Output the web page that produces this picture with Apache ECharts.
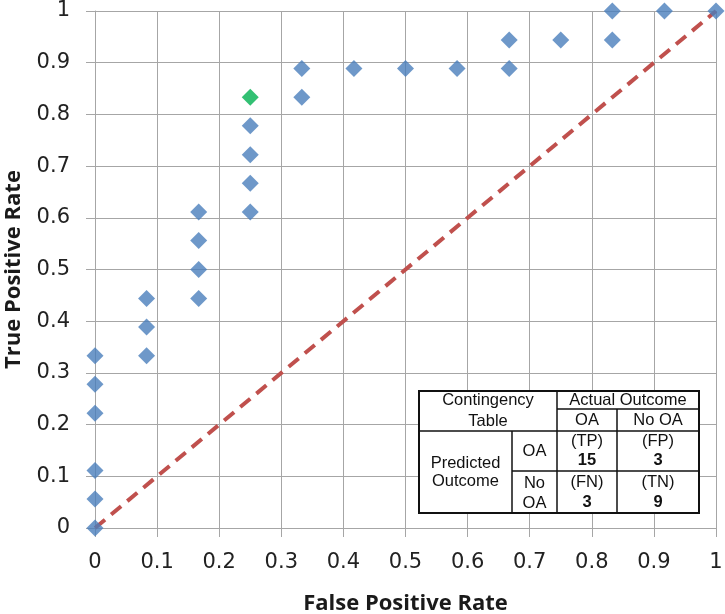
<!DOCTYPE html>
<html>
<head>
<meta charset="utf-8">
<script src="https://cdn.jsdelivr.net/npm/echarts@6/dist/echarts.min.js"></script>
<style>
html,body{margin:0;padding:0;background:#fff;}
#chart{width:725px;height:614px;}
</style>
</head>
<body>
<div id="chart"></div>
<script>
// ROC points (False Positive Rate, True Positive Rate)
const fprValues = [0, 0, 0, 0, 0, 0,
  0.083, 0.083, 0.083,
  0.167, 0.167, 0.167, 0.167,
  0.25, 0.25, 0.25, 0.25,
  0.333, 0.333,
  0.417, 0.5, 0.583,
  0.667, 0.667,
  0.75,
  0.833, 0.833,
  0.917, 1];
const tprValues = [0, 0.056, 0.111, 0.222, 0.278, 0.333,
  0.333, 0.389, 0.444,
  0.444, 0.5, 0.556, 0.611,
  0.611, 0.667, 0.722, 0.778,
  0.833, 0.889,
  0.889, 0.889, 0.889,
  0.889, 0.944,
  0.944,
  0.944, 1,
  1, 1];
// highlighted operating point
const highlightFpr = [0.25];
const highlightTpr = [0.833];
// chance diagonal
const diagonalX = [0, 1];
const diagonalY = [0, 1];
// axis ticks
const axisTicks = [0, 0.1, 0.2, 0.3, 0.4, 0.5, 0.6, 0.7, 0.8, 0.9, 1];
// contingency table
const tableHeader = ['Contingency', 'Table', 'Actual Outcome', 'OA', 'No OA'];
const tableRowLabels = ['Predicted', 'Outcome', 'OA', 'No', 'OA'];
const cellTags = ['(TP)', '(FP)', '(FN)', '(TN)'];
const cellCounts = [15, 3, 3, 9];

const pts = fprValues.map((x, i) => [x, tprValues[i]]);
const hl = highlightFpr.map((x, i) => [x, highlightTpr[i]]);
const diag = diagonalX.map((x, i) => [x, diagonalY[i]]);

const chart = echarts.init(document.getElementById('chart'), null, {renderer: 'canvas'});

const gridColor = '#a6a6a6';
const labelFont = {fontFamily: 'DejaVu Sans', fontSize: 21, color: '#222'};
const titleFont = {fontFamily: 'Open Sans', fontWeight: 'bold', fontSize: 22, color: '#1a1a1a'};

function fmt(v){ return String(parseFloat(v.toFixed(1))); }

// table geometry (pixels)
const X0 = 419, X1 = 512, X2 = 557, X3 = 617, X4 = 699;
const Y0 = 391, Y1 = 409, Y2 = 431, Y3 = 471, Y4 = 513;
const tf = 'Liberation Sans';
function txt(x, y, s, bold){
  return {type: 'text', x: x, y: y, z: 102, style: {text: String(s), x: 0, y: 0, align: 'center', verticalAlign: 'middle',
    font: (bold ? 'bold ' : '') + '16.5px "' + tf + '"', fill: '#111'}};
}
function ln(x1, y1, x2, y2, w){
  return {type: 'line', z: 101, shape: {x1: x1, y1: y1, x2: x2, y2: y2}, style: {stroke: '#111', lineWidth: w || 1.5}};
}
const cx1 = (X0 + X2) / 2, cxA = (X1 + X2) / 2, cxB = (X2 + X3) / 2, cxC = (X3 + X4) / 2;
const graphics = [
  {type: 'rect', z: 100, shape: {x: X0, y: Y0, width: X4 - X0, height: Y4 - Y0}, style: {fill: '#fff', stroke: '#111', lineWidth: 2}},
  ln(X2, Y0, X2, Y4),
  ln(X1, Y2, X1, Y4),
  ln(X3, Y1, X3, Y4),
  ln(X2, Y1, X4, Y1),
  ln(X0, Y2, X4, Y2),
  ln(X1, Y3, X4, Y3),
  txt(cx1, 400, tableHeader[0]),
  txt(cx1, 421, tableHeader[1]),
  txt((X2 + X4) / 2, 400, tableHeader[2]),
  txt(cxB, 420, tableHeader[3]),
  txt(cxC, 420, tableHeader[4]),
  txt((X0 + X1) / 2, 463, tableRowLabels[0]),
  txt((X0 + X1) / 2, 481, tableRowLabels[1]),
  txt(cxA, 451, tableRowLabels[2]),
  txt(cxA, 483, tableRowLabels[3]),
  txt(cxA, 503, tableRowLabels[4]),
  txt(cxB, 441, cellTags[0]),
  txt(cxB, 460, cellCounts[0], true),
  txt(cxC, 441, cellTags[1]),
  txt(cxC, 460, cellCounts[1], true),
  txt(cxB, 482, cellTags[2]),
  txt(cxB, 502, cellCounts[2], true),
  txt(cxC, 482, cellTags[3]),
  txt(cxC, 502, cellCounts[3], true)
];

const axisCommon = {
  type: 'value', min: axisTicks[0], max: axisTicks[axisTicks.length - 1], interval: 0.1,
  axisLine: {show: true, lineStyle: {color: gridColor, width: 1}},
  axisTick: {show: true, length: 9, lineStyle: {color: gridColor, width: 1}},
  splitLine: {show: true, lineStyle: {color: gridColor, width: 1}},
  nameLocation: 'middle'
};

chart.setOption({
  animation: false,
  backgroundColor: '#fff',
  grid: {left: 95, right: 9, top: 11, bottom: 86, containLabel: false, outerBoundsMode: 'none'},
  xAxis: Object.assign({}, axisCommon, {
    name: 'False Positive Rate', nameGap: 76,
    nameTextStyle: Object.assign({verticalAlign: 'middle'}, titleFont),
    axisLabel: Object.assign({margin: 24, formatter: fmt}, labelFont)
  }),
  yAxis: Object.assign({}, axisCommon, {
    name: 'True Positive Rate', nameGap: 81,
    nameTextStyle: Object.assign({verticalAlign: 'middle'}, titleFont),
    axisLabel: Object.assign({margin: 25, formatter: fmt}, labelFont)
  }),
  series: [
    {type: 'line', data: diag, symbol: 'none', z: 2,
      lineStyle: {color: '#c0504d', width: 4, type: [13, 8]}},
    {type: 'scatter', data: pts, symbol: 'diamond', symbolSize: 17, clip: false, z: 3,
      itemStyle: {color: '#4a7ebb'}},
    {type: 'scatter', data: hl, symbol: 'diamond', symbolSize: 17, clip: false, z: 4,
      itemStyle: {color: '#00b050'}}
  ],
  graphic: graphics
});
</script>
</body>
</html>
